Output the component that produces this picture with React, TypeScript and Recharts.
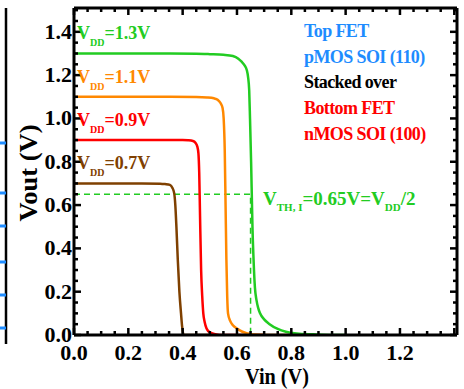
import React from 'react';
import { LineChart, Line, XAxis, YAxis } from 'recharts';

// ---------- data ----------
// Vin (V) / Vout (V) for each supply voltage
const VDD13_X = [0, 0.3, 0.45, 0.5, 0.55, 0.585, 0.605, 0.617, 0.628, 0.636, 0.641, 0.645, 0.648, 0.652, 0.655, 0.657, 0.661, 0.666, 0.672, 0.678, 0.685, 0.7, 0.72, 0.75, 0.78, 0.82, 0.88, 0.95, 1.0];
const VDD13_Y = [1.3, 1.3, 1.299, 1.297, 1.294, 1.288, 1.276, 1.262, 1.245, 1.224, 1.19, 1.13, 1.0, 0.8, 0.62, 0.5, 0.35, 0.22, 0.16, 0.125, 0.1, 0.072, 0.05, 0.028, 0.015, 0.007, 0.003, 0, 0];

const VDD11_X = [0, 0.3, 0.45, 0.49, 0.515, 0.53, 0.54, 0.547, 0.551, 0.555, 0.558, 0.561, 0.564, 0.567, 0.575, 0.585, 0.6, 0.62, 0.64, 0.66, 0.7, 0.8];
const VDD11_Y = [1.1, 1.1, 1.099, 1.097, 1.093, 1.085, 1.07, 1.048, 1.0, 0.85, 0.6, 0.35, 0.18, 0.1, 0.065, 0.045, 0.03, 0.015, 0.007, 0.002, 0, 0];

const VDD09_X = [0, 0.3, 0.4, 0.42, 0.438, 0.447, 0.454, 0.458, 0.461, 0.464, 0.468, 0.472, 0.476, 0.481, 0.488, 0.5, 0.52, 0.55, 0.7];
const VDD09_Y = [0.9, 0.9, 0.9, 0.899, 0.896, 0.888, 0.87, 0.84, 0.75, 0.55, 0.3, 0.18, 0.1, 0.06, 0.03, 0.012, 0.004, 0, 0];

const VDD07_X = [0, 0.25, 0.317, 0.335, 0.353, 0.362, 0.369, 0.373, 0.377, 0.382, 0.388, 0.394, 0.398, 0.401, 0.404, 0.5];
const VDD07_Y = [0.7, 0.7, 0.699, 0.697, 0.693, 0.68, 0.654, 0.6, 0.5, 0.35, 0.2, 0.1, 0.04, 0.01, 0, 0];

// V_TH,I = 0.65 V guide
const VTH_X = [0, 0.65, 0.65];
const VTH_Y = [0.65, 0.65, 0];

const X_TICKS = [0, 0.05, 0.1, 0.15, 0.2, 0.25, 0.3, 0.35, 0.4, 0.45, 0.5, 0.55, 0.6, 0.65, 0.7, 0.75, 0.8, 0.85, 0.9, 0.95, 1.0, 1.05, 1.1, 1.15, 1.2, 1.25, 1.3, 1.35, 1.4];
const X_LABELS = ['0.0', '0.2', '0.4', '0.6', '0.8', '1.0', '1.2'];
const Y_TICKS = [0, 0.05, 0.1, 0.15, 0.2, 0.25, 0.3, 0.35, 0.4, 0.45, 0.5, 0.55, 0.6, 0.65, 0.7, 0.75, 0.8, 0.85, 0.9, 0.95, 1.0, 1.05, 1.1, 1.15, 1.2, 1.25, 1.3, 1.35, 1.4, 1.45, 1.5];
const Y_LABELS = ['0.0', '0.2', '0.4', '0.6', '0.8', '1.0', '1.2', '1.4'];

const toPoints = (xs: number[], ys: number[]) => xs.map((x, i) => ({ x, y: ys[i] }));

const GREEN = '#22cc22';
const ORANGE = '#ff8800';
const RED = '#ff0000';
const BROWN = '#7f4000';
const BLUE = '#1e8cff';
const FONT = "'Liberation Serif', 'Times New Roman', Times, 'DejaVu Serif', serif";
const serif = { fontFamily: FONT, fontWeight: 700 } as const;

const isMajor = (v: number) => Math.abs(v / 0.2 - Math.round(v / 0.2)) < 1e-6;
const label = (v: number, list: string[]) => {
  if (!isMajor(v)) return null;
  const s = v.toFixed(1);
  return list.includes(s) ? s : null;
};

const BottomTick = (p: any) => {
  const v = p.payload.value;
  const len = isMajor(v) ? 7 : 4;
  const s = label(v, X_LABELS);
  return (
    <g>
      <line x1={p.x} x2={p.x} y1={p.y} y2={p.y - len} stroke="#000" strokeWidth={2.5} />
      {s && (
        <text x={p.x} y={p.y + 25} textAnchor="middle" style={serif} fontSize={22} fill="#000">
          {s}
        </text>
      )}
    </g>
  );
};

const TopTick = (p: any) => {
  const len = isMajor(p.payload.value) ? 7 : 4;
  return <line x1={p.x} x2={p.x} y1={p.y} y2={p.y + len} stroke="#000" strokeWidth={2.5} />;
};

const LeftTick = (p: any) => {
  const v = p.payload.value;
  const len = isMajor(v) ? 7 : 4;
  const s = label(v, Y_LABELS);
  return (
    <g>
      <line x1={p.x} x2={p.x + len} y1={p.y} y2={p.y} stroke="#000" strokeWidth={2.5} />
      {s && (
        <text x={p.x - 2} y={p.y + 7} textAnchor="end" style={serif} fontSize={22} fill="#000">
          {s}
        </text>
      )}
    </g>
  );
};

const RightTick = (p: any) => {
  const len = isMajor(p.payload.value) ? 7 : 4;
  return <line x1={p.x} x2={p.x - len} y1={p.y} y2={p.y} stroke="#000" strokeWidth={2.5} />;
};

const axisLine = { stroke: '#000', strokeWidth: 3 };

export default function App() {
  return (
    <div style={{ position: 'fixed', left: 0, top: 0, width: 464, height: 389, background: '#fff' }}>
      <LineChart width={464} height={389} margin={{ top: 7, right: 6, bottom: 14, left: 14 }}>
        <XAxis xAxisId="b" type="number" dataKey="x" domain={[0, 1.41]} ticks={X_TICKS} interval={0}
          allowDataOverflow tickSize={0} tickMargin={0} tickLine={false} axisLine={axisLine} height={40} tick={BottomTick} />
        <XAxis xAxisId="t" orientation="top" type="number" dataKey="x" domain={[0, 1.41]} ticks={X_TICKS} interval={0}
          allowDataOverflow tickSize={0} tickMargin={0} tickLine={false} axisLine={axisLine} height={1} tick={TopTick} />
        <YAxis yAxisId="l" type="number" domain={[0, 1.51]} ticks={Y_TICKS} interval={0}
          allowDataOverflow tickSize={0} tickMargin={0} tickLine={false} axisLine={axisLine} width={60} tick={LeftTick} />
        <YAxis yAxisId="r" orientation="right" type="number" domain={[0, 1.51]} ticks={Y_TICKS} interval={0}
          allowDataOverflow tickSize={0} tickMargin={0} tickLine={false} axisLine={axisLine} width={1} tick={RightTick} />

        <Line xAxisId="b" yAxisId="l" data={toPoints(VTH_X, VTH_Y)} dataKey="y" type="linear" stroke={GREEN}
          strokeWidth={1.5} strokeDasharray="6 4" dot={false} isAnimationActive={false} />
        <Line xAxisId="b" yAxisId="l" data={toPoints(VDD07_X, VDD07_Y)} dataKey="y" type="monotoneX" stroke={BROWN}
          strokeWidth={2.5} dot={false} isAnimationActive={false} />
        <Line xAxisId="b" yAxisId="l" data={toPoints(VDD09_X, VDD09_Y)} dataKey="y" type="monotoneX" stroke={RED}
          strokeWidth={2.5} dot={false} isAnimationActive={false} />
        <Line xAxisId="b" yAxisId="l" data={toPoints(VDD11_X, VDD11_Y)} dataKey="y" type="monotoneX" stroke={ORANGE}
          strokeWidth={2.5} dot={false} isAnimationActive={false} />
        <Line xAxisId="b" yAxisId="l" data={toPoints(VDD13_X, VDD13_Y)} dataKey="y" type="monotoneX" stroke={GREEN}
          strokeWidth={2.5} dot={false} isAnimationActive={false} />
      </LineChart>

      <svg width={464} height={389} style={{ position: 'absolute', left: 0, top: 0, pointerEvents: 'none', ...serif }}>
        {/* edge of the neighbouring panel */}
        <line x1={6} x2={6} y1={8} y2={344} stroke="#000" strokeWidth={2.5} />
        {[143, 193, 226, 262, 295, 328].map((y) => (
          <line key={y} x1={0} x2={6} y1={y} y2={y} stroke={BLUE} strokeWidth={3} />
        ))}

        <text transform="translate(37,173) rotate(-90)" textAnchor="middle" fontSize={26} textLength={97}
          lengthAdjust="spacingAndGlyphs" fill="#000">Vout (V)</text>
        <text x={245} y={384} fontSize={24} textLength={64} lengthAdjust="spacingAndGlyphs" fill="#000">Vin (V)</text>

        <text x={77} y={39} fontSize={18} fill={GREEN}>V<tspan dy={7} fontSize={10}>DD</tspan><tspan dy={-7}>=1.3V</tspan></text>
        <text x={77} y={83} fontSize={18} fill={ORANGE}>V<tspan dy={7} fontSize={10}>DD</tspan><tspan dy={-7}>=1.1V</tspan></text>
        <text x={77} y={126} fontSize={18} fill={RED}>V<tspan dy={7} fontSize={10}>DD</tspan><tspan dy={-7}>=0.9V</tspan></text>
        <text x={77} y={169} fontSize={18} fill={BROWN}>V<tspan dy={7} fontSize={10}>DD</tspan><tspan dy={-7}>=0.7V</tspan></text>

        <text x={263} y={205} fontSize={19} fill={GREEN}>
          V<tspan dy={6} fontSize={11}>TH, I</tspan><tspan dy={-6}>=0.65V=V</tspan><tspan dy={6} fontSize={11}>DD</tspan><tspan dy={-6}>/2</tspan>
        </text>

        <g fontSize={18} letterSpacing={-0.6}>
          <text x={304} y={37} fill={BLUE}>Top FET</text>
          <text x={304} y={63} fill={BLUE}>pMOS SOI (110)</text>
          <text x={304} y={88} fill="#000">Stacked over</text>
          <text x={304} y={114} fill={RED}>Bottom FET</text>
          <text x={304} y={140} fill={RED}>nMOS SOI (100)</text>
        </g>
      </svg>
    </div>
  );
}
